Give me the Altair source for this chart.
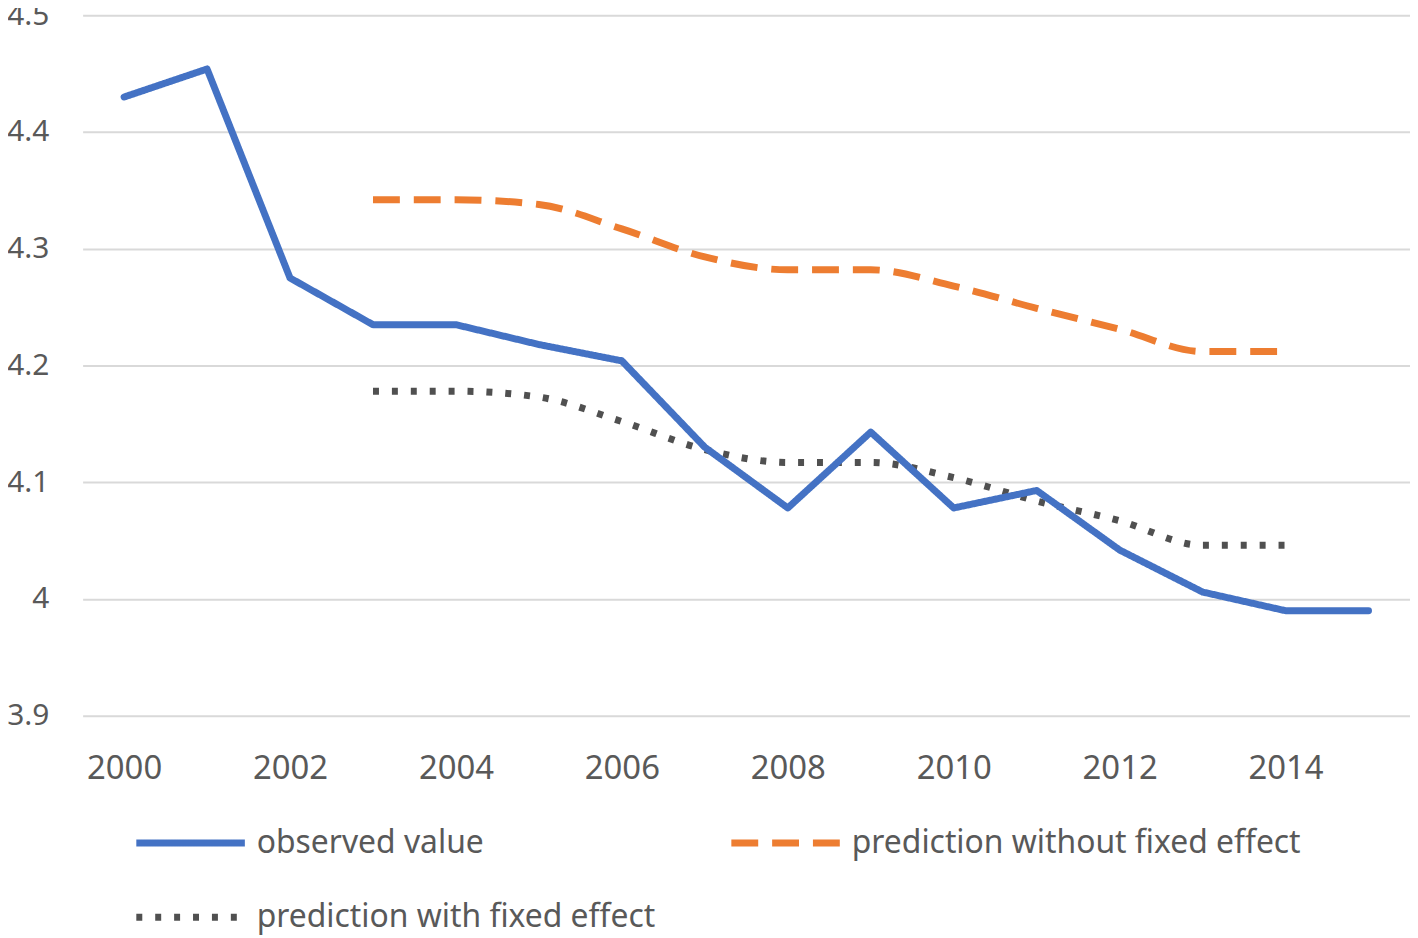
import altair as alt
import pandas as pd

years = list(range(2000, 2016))
observed = [4.430, 4.454, 4.275, 4.235, 4.235, 4.218, 4.204, 4.130,
            4.078, 4.143, 4.078, 4.093, 4.042, 4.006, 3.990, 3.990]
pred_years = list(range(2003, 2015))
pred_without_fe = [4.342, 4.342, 4.338, 4.317, 4.293, 4.282, 4.282,
                   4.268, 4.249, 4.231, 4.212, 4.212]
pred_with_fe = [4.178, 4.178, 4.173, 4.152, 4.128, 4.117, 4.117,
                4.104, 4.084, 4.067, 4.046, 4.046]
series_names = ["observed value", "prediction without fixed effect",
                "prediction with fixed effect"]
x_ticks = [2000, 2002, 2004, 2006, 2008, 2010, 2012, 2014]
y_ticks = [3.9, 4.0, 4.1, 4.2, 4.3, 4.4, 4.5]

rows = []
for y, v in zip(years, observed):
    rows.append({"year": y, "value": v, "series": series_names[0]})
for y, v in zip(pred_years, pred_without_fe):
    rows.append({"year": y, "value": v, "series": series_names[1]})
for y, v in zip(pred_years, pred_with_fe):
    rows.append({"year": y, "value": v, "series": series_names[2]})
df = pd.DataFrame(rows)

FONT = "Noto Sans"
TXT = "#595959"

x = alt.X("year:Q", scale=alt.Scale(domain=[1999.5, 2015.5], nice=False, zero=False),
          axis=alt.Axis(values=x_ticks, format="d", title=None, grid=False, domain=False,
                        ticks=False, labelPadding=37, labelFontSize=33, labelFont=FONT,
                        labelColor=TXT))
y = alt.Y("value:Q", scale=alt.Scale(domain=[3.9, 4.5], nice=False, zero=False),
          axis=alt.Axis(values=y_ticks, format=".1~f", title=None, grid=True,
                        gridColor="#d9d9d9", gridWidth=2, domain=False, ticks=False,
                        labelPadding=34, labelFontSize=30, labelFont=FONT, labelColor=TXT))

color = alt.Color("series:N", scale=alt.Scale(domain=series_names,
                  range=["#4472C4", "#ED7D31", "#505050"]),
                  legend=alt.Legend(title=None, orient="none", legendX=50, legendY=773,
                                    direction="horizontal",
                                    columns=2, columnPadding=61, rowPadding=-54,
                                    symbolType="stroke", symbolSize=11900,
                                    symbolStrokeWidth=7, labelFontSize=32, labelFont=FONT,
                                    labelColor=TXT, labelLimit=800, labelOffset=8))
dash = alt.StrokeDash("series:N", scale=alt.Scale(domain=series_names,
                      range=[[1, 0], [27, 14], [6, 13]]), legend=None)

base = alt.Chart(df)

obs = base.transform_filter(alt.datum.series == series_names[0]).mark_line(
    strokeWidth=7, strokeCap="round", strokeJoin="round").encode(
    x=x, y=y, color=color, strokeDash=dash, detail="series:N")

preds = base.transform_filter(alt.datum.series != series_names[0]).mark_line(
    strokeWidth=7, interpolate="monotone").encode(
    x=x, y=y, color=color, strokeDash=dash, detail="series:N")

chart = alt.layer(preds, obs).properties(
    width=1334, height=704,
    autosize=alt.AutoSizeParams(type="none"),
    padding={"left": 75, "top": 5, "right": 0, "bottom": 222},
    background="white",
).configure_view(stroke=None)

chart.save("out.html", embed_options={"renderer": "svg", "actions": False})
